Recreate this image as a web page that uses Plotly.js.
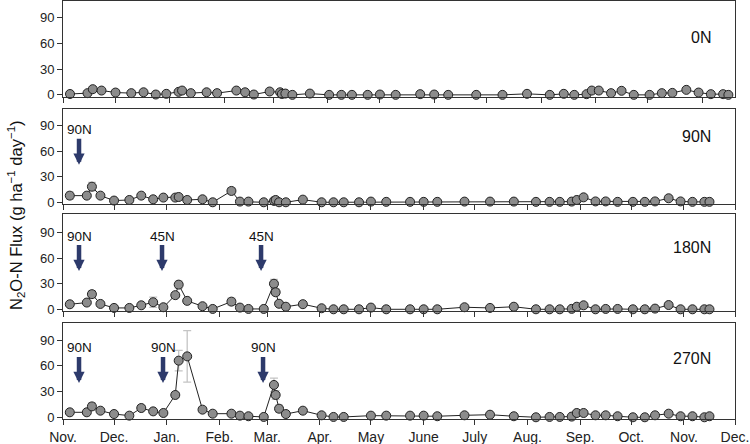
<!DOCTYPE html>
<html>
<head>
<meta charset="utf-8">
<script src="https://cdn.plot.ly/plotly-3.0.1.min.js"></script>
<style>html,body{margin:0;padding:0;background:#fff;}#chart{width:750px;height:444px;}</style>
</head>
<body>
<div id="chart"></div>
<script>
// Sampling dates (shared by all four treatments)
const sampleDates = ['2010-11-05','2010-11-15','2010-11-18','2010-11-23','2010-12-01','2010-12-10','2010-12-17','2010-12-24','2010-12-30',
  '2011-01-06','2011-01-08','2011-01-13','2011-01-22','2011-01-28','2011-02-08','2011-02-13','2011-02-18','2011-02-27',
  '2011-03-05','2011-03-06','2011-03-08','2011-03-12','2011-03-22','2011-04-02','2011-04-09','2011-04-15','2011-04-24','2011-05-01',
  '2011-05-10','2011-05-24','2011-06-01','2011-06-09','2011-06-25','2011-07-10','2011-07-24','2011-08-06','2011-08-14','2011-08-20',
  '2011-08-27','2011-08-30','2011-09-03','2011-09-10','2011-09-16','2011-09-23','2011-10-02','2011-10-09','2011-10-15','2011-10-23',
  '2011-10-30','2011-11-06','2011-11-13','2011-11-16'];

// N2O-N flux (g ha-1 day-1)
const flux0N = [1,2,6.6,5,2.7,2,3,0.4,1.2,3.5,5,2,3,2,5,3,0.4,3.9,3,1,1.5,0,1.5,0,0,0,0,0.4,
  0,0.8,0.4,0,0,0,1.2,0,1.2,0,0.8,5,5,2,4.7,0,0,2,2.3,5.8,2.7,0.8,0.8,0];
const flux90N = [7.8,7.8,18.3,7.8,2,2.7,7.8,3.5,5.5,5.5,6.2,2.7,3.5,0,13.3,0.8,0.8,0,1.6,2.7,0,0,3.1,0,0,0,0,0.8,
  0.5,0.5,0.5,0.5,0.8,0.8,0.8,0.5,0.5,0.5,0.8,2.7,5.8,1,1,0.5,0.5,0.5,1,4.7,1,0.5,0.5,0.5];
const flux180N = [5.9,7.9,17.8,6.3,1.6,1.6,4.7,8.3,2.4,16.6,29,9.9,3.6,0.4,9,2,0.4,0.4,30,20,6.5,3,6,1.2,0,0,0,2,
  0,0,0,0,2.4,1.6,3,0,0,0,0.5,3,4.7,0,0.4,0.4,0,0,0.8,5,0,0,0,0];
const flux270N = [5.8,5.8,12.7,7.7,3.8,1.9,10.8,6.9,5,26,66,71,8.9,4.2,4.2,1.9,1.2,0.4,37.7,26,10,3.8,7.7,2.3,0.4,0.4,null,1.9,
  1.9,1.9,1.9,1.2,2.3,3,1.2,0,0.4,0.4,0.8,5,5,2.3,2.3,1.2,0,0,2.3,4.2,1.2,1.2,0,1.2];

// Standard errors
const err0N = [1,1,1.5,1.5,1,1,1,0.5,0.5,1,1.5,1,1,1,1.5,1,0.5,1,1,0.5,0.5,0,0.5,0,0,0,0,0.5,
  0,0.5,0.5,0,0,0,0.5,0,0.5,0,0.5,1,1,0.5,1,0,0,0.5,0.5,1,0.5,0.5,0.5,0];
const err90N = [4,2,5,2,1,1,2,1,1.5,1.5,2,1,1,0,4,0.5,0.5,0,1,1,0,0,1,0,0,0,0,0.5,
  0.5,0.5,0.5,0.5,0.5,0.5,0.5,0.5,0.5,0.5,0.5,1,1.5,0.5,0.5,0.5,0.5,0.5,0.5,1,0.5,0.5,0.5,0.5];
const err180N = [1.5,2,4,2,1,1,1.5,6,1,3,4,2,1,0.5,4,1,0.5,0.5,5,4,2,1,1.5,0.5,0,0,0,1,
  0,0,0,0,1,1,1,0,0,0,0.5,1,1.5,0,0.5,0.5,0,0,0.5,1.5,0,0,0,0];
const err270N = [1.5,1.5,4,2,1,1,3,2,1.5,3,12,30,3,1,1.5,1,1,0.5,8,5,4,1,2,1,0.5,0.5,0,1,
  1,1,1,0.5,1,1,0.5,0,0.5,0.5,0.5,1.5,1.5,1,1,0.5,0,0,1,1.5,0.5,0.5,0,0.5];

const panelLabels = ['0N','90N','180N','270N'];
const panelLabelY = [66.5, 76.6, 73.2, 68.4];

// Month ticks
const monthTicks = ['2010-11-01','2010-12-01','2011-01-01','2011-02-01','2011-03-01','2011-04-01','2011-05-01',
  '2011-06-01','2011-07-01','2011-08-01','2011-09-01','2011-10-01','2011-11-01','2011-12-01'];
const monthLabels = ['Nov.','Dec.','Jan.','Feb.','Mar.','Apr.','May','June','July','Aug.','Sep.','Oct.','Nov.','Dec.'];
const yTicks = [0,30,60,90];

// Fertilization events
const fertPanel = [2, 3, 3, 3, 4, 4, 4];
const fertDate = ['2010-11-10 10:00','2010-11-10 10:00','2010-12-29 05:00','2011-02-25 10:00','2010-11-10 10:00','2010-12-29 19:00','2011-02-26 14:00'];
const fertLabel = ['90N','90N','45N','45N','90N','90N','90N'];
const fertTip = [44, 45, 45, 45, 40, 40, 40];

const series = [flux0N, flux90N, flux180N, flux270N];
const errors = [err0N, err90N, err180N, err270N];

const traces = series.map((vals, i) => ({
  x: sampleDates, y: vals, type: 'scatter', mode: 'lines+markers',
  xaxis: i === 0 ? 'x' : 'x' + (i + 1), yaxis: i === 0 ? 'y' : 'y' + (i + 1),
  connectgaps: true, cliponaxis: false,
  line: {color: '#222', width: 1},
  marker: {size: 9, color: '#8c8c8c', line: {color: '#222', width: 1}},
  error_y: {type: 'data', array: errors[i], visible: true, color: '#c4c4c4', thickness: 1.3, width: 4},
  showlegend: false, hoverinfo: 'x+y'
}));

const font = 'Arial, "Liberation Sans", Helvetica, sans-serif';
function xax(extra) {
  return Object.assign({
    type: 'date', showline: true, mirror: true, linecolor: '#333', linewidth: 1,
    ticks: 'outside', ticklen: 5, tickcolor: '#333', tickwidth: 1,
    showgrid: false, zeroline: false, tickvals: monthTicks, ticktext: monthLabels,
    tickfont: {family: font, size: 14, color: '#222'}, fixedrange: true
  }, extra);
}
function yax(extra) {
  return Object.assign({
    showline: true, mirror: true, linecolor: '#333', linewidth: 1,
    ticks: 'outside', ticklen: 5, tickcolor: '#333', tickwidth: 1,
    showgrid: false, zeroline: false, tickvals: yTicks,
    tickfont: {family: font, size: 13, color: '#222'}, fixedrange: true
  }, extra);
}

const fullRange = ['2010-11-01', '2011-12-01'];
const layout = {
  width: 750, height: 444,
  margin: {l: 63, r: 15, t: 1, b: 25},
  paper_bgcolor: '#fff', plot_bgcolor: '#fff',
  font: {family: font, color: '#222'},
  xaxis: xax({anchor: 'y', range: ['2010-11-01', '2011-11-19 19:00'], showticklabels: false}),
  xaxis2: xax({anchor: 'y2', range: fullRange, showticklabels: false}),
  xaxis3: xax({anchor: 'y3', range: fullRange, showticklabels: false}),
  xaxis4: xax({anchor: 'y4', range: fullRange}),
  yaxis: yax({anchor: 'x', domain: [0.7703, 1.0], range: [-2.5, 109]}),
  yaxis2: yax({anchor: 'x2', domain: [0.5144, 0.7428], range: [-2, 110]}),
  yaxis3: yax({anchor: 'x3', domain: [0.2584, 0.4904], range: [-2, 112]}),
  yaxis4: yax({anchor: 'x4', domain: [0, 0.2289], range: [-2, 109.5]}),
  annotations: []
};

panelLabels.forEach((t, i) => {
  layout.annotations.push({
    xref: 'paper', yref: i === 0 ? 'y' : 'y' + (i + 1), x: 0.967, y: panelLabelY[i],
    xanchor: 'right', yanchor: 'middle', text: t, showarrow: false,
    font: {family: font, size: 16, color: '#111'}
  });
});

fertPanel.forEach((p, k) => {
  layout.annotations.push({
    xref: 'x' + p, yref: 'y' + p, x: fertDate[k], y: fertTip[k],
    text: fertLabel[k], showarrow: true, ax: 0, ay: -35,
    arrowhead: 2, arrowsize: 0.5, arrowwidth: 4.5, arrowcolor: '#2d3a6b',
    font: {family: font, size: 13.5, color: '#111'}, standoff: 0
  });
});

layout.annotations.push({
  xref: 'paper', yref: 'paper', x: -0.07, y: 0.488, xanchor: 'center', yanchor: 'middle',
  textangle: -90, showarrow: false,
  text: 'N<sub>2</sub>O-N Flux (g ha<sup>\u22121</sup> day<sup>\u22121</sup>)',
  font: {family: font, size: 16.5, color: '#111'}
});

Plotly.newPlot('chart', traces, layout, {staticPlot: true, displayModeBar: false});
</script>
</body>
</html>
